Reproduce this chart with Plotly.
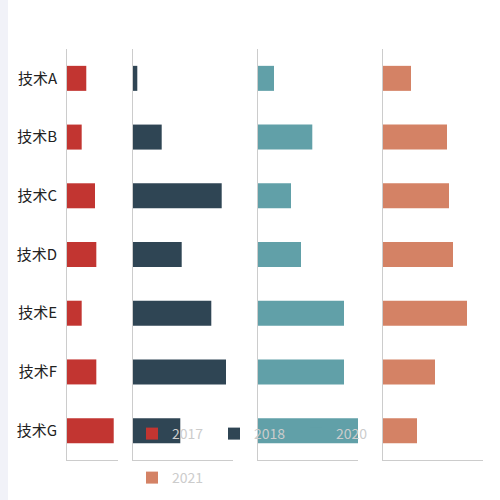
import plotly.graph_objects as go

categories = ["技术A", "技术B", "技术C", "技术D", "技术E", "技术F", "技术G"]
series_names = ["2017", "2018", "2020", "2021"]
values_2017 = [37.8, 28.8, 54.9, 57.5, 28.8, 57.5, 91.6]
values_2018 = [4.3, 28.7, 88.7, 48.7, 78.3, 93.0, 47.3]
values_2020 = [16.0, 54.3, 33.0, 43.0, 86.0, 86.0, 100.0]
values_2021 = [28.0, 64.0, 66.0, 70.0, 84.0, 52.0, 34.0]
colors = ["#c23531", "#2f4554", "#61a0a8", "#d48265"]

W = 500.0
domains = [(67 / W, 118 / W), (133 / W, 233 / W), (258 / W, 358 / W), (383 / W, 483 / W)]
all_values = [values_2017, values_2018, values_2020, values_2021]
legend_ids = ["legend", "legend", "legend", "legend2"]

fig = go.Figure()
for i, (name, vals, col) in enumerate(zip(series_names, all_values, colors)):
    xa = "x" if i == 0 else f"x{i+1}"
    ya = "y" if i == 0 else f"y{i+1}"
    fig.add_trace(go.Bar(
        y=categories, x=vals, orientation="h", name=name,
        marker=dict(color=col, line=dict(width=0)),
        xaxis=xa, yaxis=ya, legend=legend_ids[i],
        hoverinfo="skip",
    ))

axis_common = dict(showgrid=False, zeroline=False, showline=True, linecolor="#cccccc",
                   linewidth=1, ticks="", fixedrange=True)
for i, dom in enumerate(domains):
    sfx = "" if i == 0 else str(i + 1)
    fig.update_layout(**{
        f"xaxis{sfx}": dict(domain=list(dom), range=[0, 100], showticklabels=False,
                            anchor=f"y{sfx}", **axis_common),
        f"yaxis{sfx}": dict(domain=[0, 1], autorange="reversed", anchor=f"x{sfx}",
                            showticklabels=(i == 0), ticklabelstandoff=6,
                            tickfont=dict(size=15, color="#222222", family="Noto Sans CJK SC"),
                            type="category", **axis_common),
    })

fig.add_shape(type="rect", xref="paper", yref="paper", x0=0, x1=8 / W,
              y0=-40 / 411, y1=1 + 49 / 411, fillcolor="#f1f2f8", line=dict(width=0),
              layer="below")

legend_font = dict(size=14, color="#cccccc", family="Noto Sans CJK SC")
fig.update_layout(
    width=500, height=500,
    margin=dict(l=0, r=0, t=49, b=40),
    paper_bgcolor="white", plot_bgcolor="rgba(0,0,0,0)",
    bargap=0.574,
    showlegend=True,
    legend=dict(orientation="h", x=132 / W, xanchor="left", y=(460 - 434) / 411,
                yanchor="middle", font=legend_font, bgcolor="rgba(0,0,0,0)",
                entrywidth=37, entrywidthmode="pixels", itemclick=False, itemdoubleclick=False),
    legend2=dict(orientation="h", x=132 / W, xanchor="left", y=(460 - 478) / 411,
                 yanchor="middle", font=legend_font, bgcolor="rgba(0,0,0,0)",
                 itemclick=False, itemdoubleclick=False),
)

fig.write_html("out.html", config={"displayModeBar": False},
               post_script="document.body.style.margin='0';")
